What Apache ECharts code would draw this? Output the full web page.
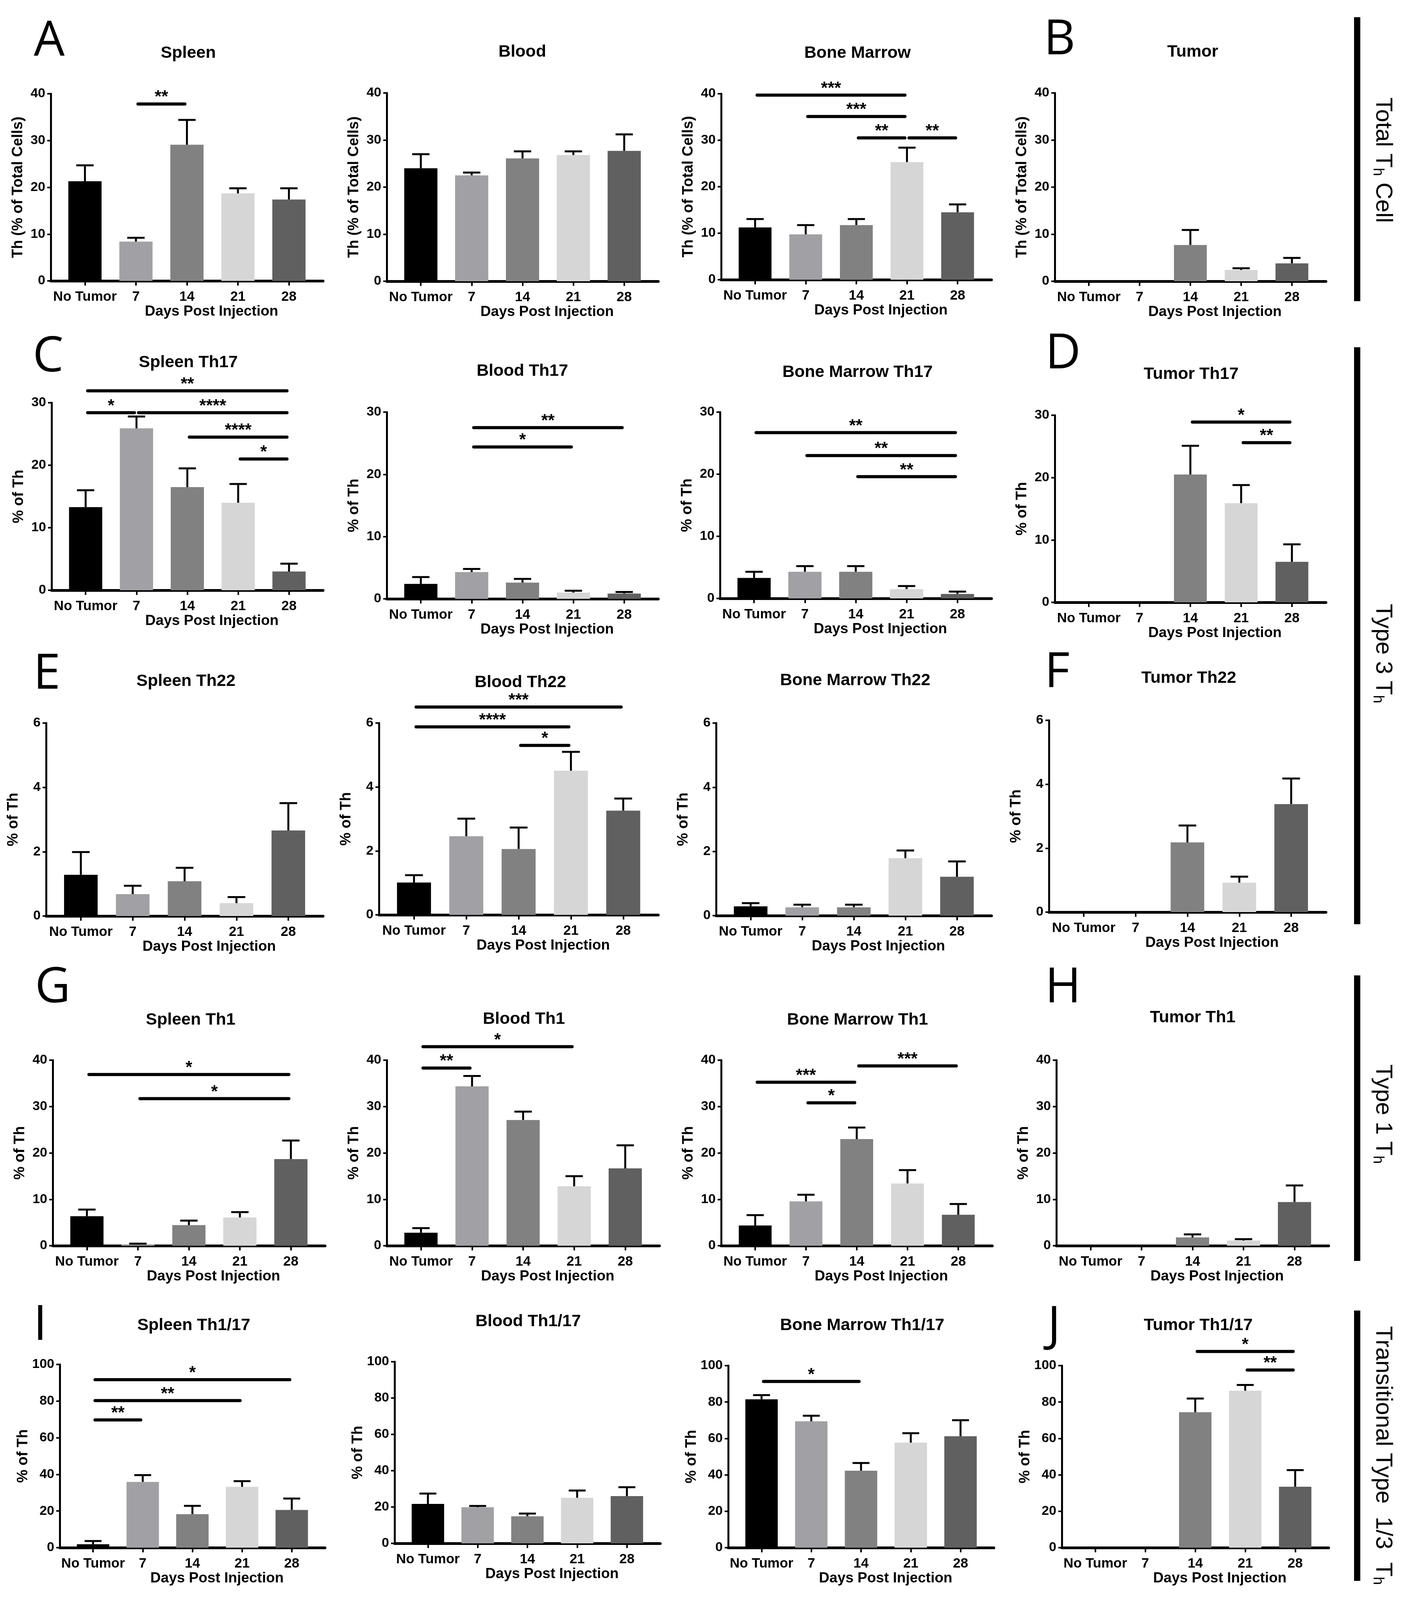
<!DOCTYPE html>
<html lang="en">
<head>
<meta charset="UTF-8">
<title>Th subsets after tumor injection</title>
<script src="https://cdn.jsdelivr.net/npm/echarts@6/dist/echarts.min.js"></script>
<style>
    html, body { margin: 0; padding: 0; background: #ffffff; overflow: hidden; }
    #main { width: 3622px; height: 4155px; }
</style>
</head>
<body>
<div id="main"></div>
<script>
// categories (x axis of every panel)
var days = ['No Tumor', '7', '14', '21', '28'];
var barColors = ['#000000', '#a1a1a5', '#818181', '#d6d6d6', '#606060'];

// y axis ticks per row
var totalTicks = [0, 10, 20, 30, 40];
var th17Ticks = [0, 10, 20, 30];
var th22Ticks = [0, 2, 4, 6];
var th1Ticks = [0, 10, 20, 30, 40];
var th117Ticks = [0, 20, 40, 60, 80, 100];

// A / B  total Th (% of total cells): mean, SEM, significance [from, to, y, stars]
var spleenTh = [21.3, 8.4, 29.1, 18.7, 17.4];
var spleenThSem = [3.4, 0.8, 5.3, 1.1, 2.4];
var spleenThSig = [[1, 2, 37.8, '**']];
var bloodTh = [24.0, 22.5, 26.1, 26.8, 27.7];
var bloodThSem = [3.0, 0.6, 1.5, 0.8, 3.5];
var bloodThSig = [];
var marrowTh = [11.25, 9.75, 11.75, 25.3, 14.5];
var marrowThSem = [1.8, 2.0, 1.3, 3.1, 1.7];
var marrowThSig = [[0, 3, 39.7, '***'], [1, 3, 35.1, '***'], [2, 3, 30.5, '**'], [3, 4, 30.5, '**']];
var tumorTh = [0, 0, 7.7, 2.4, 3.8];
var tumorThSem = [0, 0, 3.2, 0.35, 1.15];
var tumorThSig = [];

// C / D  Th17 (% of Th)
var spleenTh17 = [13.3, 25.9, 16.5, 14.0, 3.0];
var spleenTh17Sem = [2.7, 1.9, 3.0, 3.0, 1.25];
var spleenTh17Sig = [[0, 4, 31.9, '**'], [0, 1, 28.4, '*'], [1, 4, 28.4, '****'], [2, 4, 24.5, '****'], [3, 4, 21.0, '*']];
var bloodTh17 = [2.4, 4.3, 2.6, 1.0, 0.85];
var bloodTh17Sem = [1.1, 0.5, 0.6, 0.3, 0.25];
var bloodTh17Sig = [[1, 4, 27.5, '**'], [1, 3, 24.4, '*']];
var marrowTh17 = [3.3, 4.3, 4.3, 1.5, 0.73];
var marrowTh17Sem = [1.0, 0.9, 0.9, 0.5, 0.37];
var marrowTh17Sig = [[0, 4, 26.7, '**'], [1, 4, 23.0, '**'], [2, 4, 19.6, '**']];
var tumorTh17 = [0, 0, 20.5, 15.9, 6.5];
var tumorTh17Sem = [0, 0, 4.6, 2.9, 2.8];
var tumorTh17Sig = [[2, 4, 28.9, '*'], [3, 4, 25.6, '**']];

// E / F  Th22 (% of Th)
var spleenTh22 = [1.28, 0.68, 1.08, 0.40, 2.66];
var spleenTh22Sem = [0.71, 0.26, 0.42, 0.19, 0.85];
var spleenTh22Sig = [];
var bloodTh22 = [1.01, 2.46, 2.06, 4.51, 3.26];
var bloodTh22Sem = [0.23, 0.55, 0.67, 0.59, 0.38];
var bloodTh22Sig = [[0, 4, 6.5, '***'], [0, 3, 5.88, '****'], [2, 3, 5.3, '*']];
var marrowTh22 = [0.29, 0.26, 0.26, 1.79, 1.21];
var marrowTh22Sem = [0.10, 0.08, 0.08, 0.24, 0.48];
var marrowTh22Sig = [];
var tumorTh22 = [0, 0, 2.18, 0.92, 3.38];
var tumorTh22Sem = [0, 0, 0.53, 0.19, 0.80];
var tumorTh22Sig = [];

// G / H  Th1 (% of Th)
var spleenTh1 = [6.36, 0.3, 4.44, 6.09, 18.67];
var spleenTh1Sem = [1.42, 0.14, 0.98, 1.15, 4.0];
var spleenTh1Sig = [[0, 4, 36.9, '*'], [1, 4, 31.7, '*']];
var bloodTh1 = [2.8, 34.36, 27.1, 12.8, 16.67];
var bloodTh1Sem = [0.98, 2.22, 1.8, 2.2, 4.97];
var bloodTh1Sig = [[0, 3, 42.9, '*'], [0, 1, 38.3, '**']];
var marrowTh1 = [4.36, 9.56, 22.98, 13.42, 6.67];
var marrowTh1Sem = [2.22, 1.44, 2.49, 2.88, 2.31];
var marrowTh1Sig = [[2, 4, 38.76, '***'], [0, 2, 35.24, '***'], [1, 2, 30.8, '*']];
var tumorTh1 = [0, 0, 1.78, 1.11, 9.42];
var tumorTh1Sem = [0, 0, 0.66, 0.31, 3.56];
var tumorTh1Sig = [];

// I / J  Th1/17 (% of Th)
var spleenTh117 = [1.87, 35.9, 18.3, 33.2, 20.6];
var spleenTh117Sem = [1.73, 3.7, 4.5, 3.1, 6.2];
var spleenTh117Sig = [[0, 4, 91.7, '*'], [0, 3, 80.3, '**'], [0, 1, 69.7, '**']];
var bloodTh117 = [21.7, 19.9, 14.9, 25.1, 26.0];
var bloodTh117Sem = [5.7, 0.7, 1.5, 4.0, 4.9];
var bloodTh117Sig = [];
var marrowTh117 = [81.5, 69.4, 42.3, 57.7, 61.2];
var marrowTh117Sem = [2.3, 3.1, 4.2, 5.2, 8.8];
var marrowTh117Sig = [[0, 2, 91.3, '*']];
var tumorTh117 = [0, 0, 74.4, 86.2, 33.5];
var tumorTh117Sem = [0, 0, 7.5, 3.2, 9.1];
var tumorTh117Sig = [[2, 4, 107.8, '*'], [3, 4, 97.6, '**']];

var panels = [
    {title: 'Spleen', mean: spleenTh, sem: spleenThSem, sig: spleenThSig, ticks: totalTicks, yName: 'Th (% of Total Cells)'},
    {title: 'Blood', mean: bloodTh, sem: bloodThSem, sig: bloodThSig, ticks: totalTicks, yName: 'Th (% of Total Cells)'},
    {title: 'Bone Marrow', mean: marrowTh, sem: marrowThSem, sig: marrowThSig, ticks: totalTicks, yName: 'Th (% of Total Cells)'},
    {title: 'Tumor', mean: tumorTh, sem: tumorThSem, sig: tumorThSig, ticks: totalTicks, yName: 'Th (% of Total Cells)'},
    {title: 'Spleen Th17', mean: spleenTh17, sem: spleenTh17Sem, sig: spleenTh17Sig, ticks: th17Ticks, yName: '% of Th'},
    {title: 'Blood Th17', mean: bloodTh17, sem: bloodTh17Sem, sig: bloodTh17Sig, ticks: th17Ticks, yName: '% of Th'},
    {title: 'Bone Marrow Th17', mean: marrowTh17, sem: marrowTh17Sem, sig: marrowTh17Sig, ticks: th17Ticks, yName: '% of Th'},
    {title: 'Tumor Th17', mean: tumorTh17, sem: tumorTh17Sem, sig: tumorTh17Sig, ticks: th17Ticks, yName: '% of Th'},
    {title: 'Spleen Th22', mean: spleenTh22, sem: spleenTh22Sem, sig: spleenTh22Sig, ticks: th22Ticks, yName: '% of Th'},
    {title: 'Blood Th22', mean: bloodTh22, sem: bloodTh22Sem, sig: bloodTh22Sig, ticks: th22Ticks, yName: '% of Th'},
    {title: 'Bone Marrow Th22', mean: marrowTh22, sem: marrowTh22Sem, sig: marrowTh22Sig, ticks: th22Ticks, yName: '% of Th'},
    {title: 'Tumor Th22', mean: tumorTh22, sem: tumorTh22Sem, sig: tumorTh22Sig, ticks: th22Ticks, yName: '% of Th'},
    {title: 'Spleen Th1', mean: spleenTh1, sem: spleenTh1Sem, sig: spleenTh1Sig, ticks: th1Ticks, yName: '% of Th'},
    {title: 'Blood Th1', mean: bloodTh1, sem: bloodTh1Sem, sig: bloodTh1Sig, ticks: th1Ticks, yName: '% of Th'},
    {title: 'Bone Marrow Th1', mean: marrowTh1, sem: marrowTh1Sem, sig: marrowTh1Sig, ticks: th1Ticks, yName: '% of Th'},
    {title: 'Tumor Th1', mean: tumorTh1, sem: tumorTh1Sem, sig: tumorTh1Sig, ticks: th1Ticks, yName: '% of Th'},
    {title: 'Spleen Th1/17', mean: spleenTh117, sem: spleenTh117Sem, sig: spleenTh117Sig, ticks: th117Ticks, yName: '% of Th'},
    {title: 'Blood Th1/17', mean: bloodTh117, sem: bloodTh117Sem, sig: bloodTh117Sig, ticks: th117Ticks, yName: '% of Th'},
    {title: 'Bone Marrow Th1/17', mean: marrowTh117, sem: marrowTh117Sem, sig: marrowTh117Sig, ticks: th117Ticks, yName: '% of Th'},
    {title: 'Tumor Th1/17', mean: tumorTh117, sem: tumorTh117Sem, sig: tumorTh117Sig, ticks: th117Ticks, yName: '% of Th'}
];

// layout (designed for 3622 x 4155): plot box per panel [left, right, top, bottom]
var boxes = [
    [130, 827, 243, 729], [990, 1685, 241, 730], [1846, 2538, 243, 726], [2700, 3394, 241, 730],
    [132, 827, 1046, 1533], [990, 1685, 1070, 1555], [1843, 2538, 1070, 1554], [2700, 3394, 1078, 1564],
    [118, 827, 1878, 2379], [970, 1685, 1878, 2376], [1833, 2538, 1878, 2378], [2685, 3394, 1871, 2369],
    [135, 832, 2753, 3235], [990, 1688, 2753, 3235], [1846, 2540, 2753, 3235], [2704, 3401, 2753, 3235],
    [153, 832, 3543, 4019], [1010, 1690, 3536, 4008], [1864, 2544, 3546, 4019], [2718, 3401, 3546, 4019]
];
// title centres
var titlePos = [
    [482, 138], [1337, 135], [2195, 138], [3053, 135],
    [482, 941], [1337, 964], [2195, 967], [3049, 972],
    [476, 1769], [1332, 1772], [2189, 1767], [3043, 1761],
    [488, 2649], [1341, 2647], [2195, 2649], [3053, 2643],
    [496, 3442], [1352, 3432], [2207, 3442], [3067, 3442]
];
var letters = ['A', 'B', 'C', 'D', 'E', 'F', 'G', 'H', 'I', 'J'];
var letterPos = [[126, 108], [2712, 104], [123, 928], [2721, 920], [120, 1752], [2706, 1748],
    [135, 2566], [2721, 2566], [103, 3443], [2698, 3446]];
var sideLabels = ['{n|Total T}{s|h}{n| Cell}', '{n|Type 3 T}{s|h}', '{n|Type 1 T}{s|h}', '{n|Transitional Type  1/3  T}{s|h}'];
// [barTop, barBottom, textCentreY]
var sidePos = [[45, 782, 416], [902, 2400, 1697], [2533, 3275, 2893], [3403, 4105, 3780]];

var FONT = '"Liberation Sans", Arial, sans-serif';
var XMIN = -0.67, XMAX = 4.67;
var W = 3622, H = 4155;
// the window may be shorter than the design height: squeeze vertical positions to fit
var SY = Math.min(1, (window.innerHeight || H) / H);
function sy(v) { return Math.round(v * SY); }

function renderErr(params, api) {
    var x = api.value(0), m = api.value(1), s = api.value(2);
    if (!(s > 0)) return;
    var p0 = api.coord([x, m]);
    var p1 = api.coord([x, m + s]);
    var half = api.size([0.17, 0])[0];
    var st = {stroke: '#000', lineWidth: 5};
    return {
        type: 'group',
        children: [
            {type: 'line', shape: {x1: p0[0], y1: p0[1], x2: p1[0], y2: p1[1]}, style: st},
            {type: 'line', shape: {x1: p1[0] - half, y1: p1[1], x2: p1[0] + half, y2: p1[1]}, style: st}
        ]
    };
}

function makeSig(sig) {
    return function (params, api) {
        var a = api.coord([api.value(0) + 0.04, api.value(2)]);
        var b = api.coord([api.value(1) - 0.04, api.value(2)]);
        return {
            type: 'group',
            children: [
                {type: 'line', shape: {x1: a[0], y1: a[1], x2: b[0], y2: b[1]},
                    style: {stroke: '#000', lineWidth: 8, lineCap: 'round'}},
                {type: 'text', x: (a[0] + b[0]) / 2, y: a[1] + 6,
                    style: {text: sig[params.dataIndex][3], fill: '#000', font: 'bold 44px ' + FONT,
                        align: 'center', verticalAlign: 'bottom'}}
            ]
        };
    };
}

var grids = [], xAxes = [], yAxes = [], series = [], graphics = [];

panels.forEach(function (p, i) {
    var b = boxes[i];
    var unit = (b[1] - b[0]) / (XMAX - XMIN);
    grids.push({left: b[0], top: sy(b[2]), width: b[1] - b[0], height: sy(b[3]) - sy(b[2]),
        containLabel: false, outerBoundsMode: 'none'});
    xAxes.push({
        type: 'value', gridIndex: i, min: XMIN, max: XMAX,
        name: 'Days Post Injection', nameLocation: 'middle', nameGap: 60,
        nameTextStyle: {color: '#000', fontSize: 37, fontWeight: 'bold', fontFamily: FONT, padding: [0, 0, 0, 126]},
        splitLine: {show: false},
        axisLine: {show: true, onZero: false, lineStyle: {color: '#000', width: 7}},
        axisTick: {show: true, customValues: [0, 1, 2, 3, 4], length: 12, lineStyle: {color: '#000', width: 4}},
        axisLabel: {show: true, customValues: [0, 1, 2, 3, 4], margin: 24,
            formatter: function (v) { return days[Math.round(v)]; },
            color: '#000', fontSize: 35, fontWeight: 'bold', fontFamily: FONT}
    });
    yAxes.push({
        type: 'value', gridIndex: i,
        min: p.ticks[0], max: p.ticks[p.ticks.length - 1], interval: p.ticks[1] - p.ticks[0],
        name: p.yName, nameLocation: 'middle', nameGap: 64,
        nameTextStyle: {color: '#000', fontSize: 38, fontWeight: 'bold', fontFamily: FONT},
        splitLine: {show: false},
        axisLine: {show: true, onZero: false, lineStyle: {color: '#000', width: 5}},
        axisTick: {show: true, length: 9, lineStyle: {color: '#000', width: 4}},
        axisLabel: {margin: 14, color: '#000', fontSize: 34, fontWeight: 'bold', fontFamily: FONT}
    });
    series.push({
        type: 'bar', xAxisIndex: i, yAxisIndex: i, barWidth: Math.round(unit * 0.65),
        silent: true,
        data: p.mean.map(function (v, k) {
            return {value: [k, v], itemStyle: {color: barColors[k]}};
        })
    });
    series.push({
        type: 'custom', xAxisIndex: i, yAxisIndex: i, clip: false, silent: true, z: 3,
        data: p.mean.map(function (v, k) { return [k, v, p.sem[k]]; }),
        renderItem: renderErr
    });
    if (p.sig.length) {
        series.push({
            type: 'custom', xAxisIndex: i, yAxisIndex: i, clip: false, silent: true, z: 4,
            data: p.sig.map(function (s) { return [s[0], s[1], s[2]]; }),
            renderItem: makeSig(p.sig)
        });
    }
    graphics.push({
        type: 'text', x: titlePos[i][0], y: sy(titlePos[i][1]),
        style: {text: p.title, fill: '#000', font: 'bold 43px ' + FONT, align: 'center', verticalAlign: 'middle'}
    });
});

letters.forEach(function (l, i) {
    graphics.push({
        type: 'text', x: letterPos[i][0], y: sy(letterPos[i][1]),
        style: {text: l, fill: '#000', font: '125px "Open Sans", ' + FONT, align: 'center', verticalAlign: 'middle'}
    });
});

sideLabels.forEach(function (t, i) {
    var sp = sidePos[i];
    graphics.push({
        type: 'line', shape: {x1: 3474, y1: sy(sp[0]), x2: 3474, y2: sy(sp[1])},
        style: {stroke: '#000', lineWidth: 16}
    });
    graphics.push({
        type: 'text', x: 3540, y: sy(sp[2]), rotation: -Math.PI / 2,
        style: {
            text: t, align: 'center', verticalAlign: 'middle',
            rich: {
                n: {fill: '#000', fontSize: 60, fontFamily: FONT, lineHeight: 66, verticalAlign: 'middle'},
                s: {fill: '#000', fontSize: 38, fontFamily: FONT, lineHeight: 20, verticalAlign: 'bottom'}
            }
        }
    });
});

var el = document.getElementById('main');
el.style.height = sy(H) + 'px';
var myChart = echarts.init(el, null, {width: W, height: sy(H)});
myChart.setOption({
    animation: false,
    backgroundColor: '#ffffff',
    grid: grids,
    xAxis: xAxes,
    yAxis: yAxes,
    series: series,
    graphic: graphics
});
</script>
</body>
</html>
